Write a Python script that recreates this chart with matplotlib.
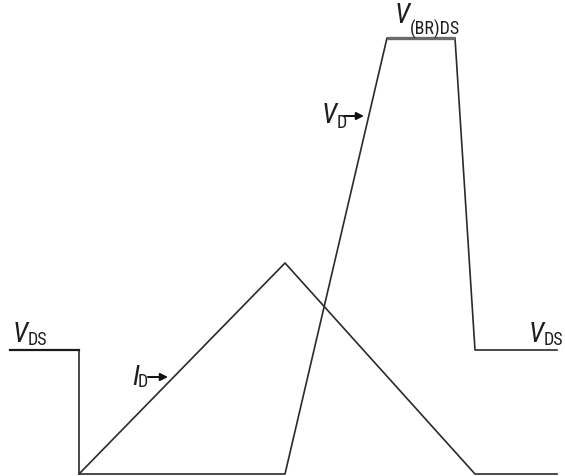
import matplotlib.pyplot as plt
from matplotlib import font_manager as fm

# breakpoints of the switching waveforms (pixel-like units, y grows downward)
vds_t = [10, 79, 79, 285, 387, 455, 475, 557]
vds_v = [351, 351, 475, 475, 39, 39, 351, 351]

id_t = [79, 285, 475, 557]
id_v = [475, 264, 475, 475]

# pick the narrowest sans that is installed
names = {f.name for f in fm.fontManager.ttflist}
stretch = 'normal'
family = 'Liberation Sans'
for cand in ['Liberation Sans Narrow', 'Roboto Condensed', 'Open Sans Condensed']:
    if cand in names:
        family = cand
        break
else:
    if any(f.name == 'DejaVu Sans' and f.stretch == 'condensed'
           for f in fm.fontManager.ttflist):
        family, stretch = 'DejaVu Sans', 'condensed'

fig = plt.figure(figsize=(5.65, 4.77), dpi=100)
ax = fig.add_axes([0, 0, 1, 1])
ax.set_xlim(0, 565)
ax.set_ylim(477, 0)
ax.axis('off')

ink = '#1e1e1e'
ax.plot(vds_t, vds_v, color='#2a2a2a', lw=1.2)
ax.plot(id_t, id_v, color='#2a2a2a', lw=1.2)
# clamp level drawn a bit heavier
ax.plot(vds_t[4:6], vds_v[4:6], color='#6a6a6a', lw=2.4, solid_capstyle='butt')
ax.plot(vds_t[:2], vds_v[:2], color='#1a1a1a', lw=1.6)


def label(x, y, main, sub, ysub, size=20, subsize=13):
    # main letter in italics, subscript placed right after it
    t = ax.text(x, y, main, fontsize=size, style='italic', family=family,
                stretch=stretch, color=ink, va='baseline', ha='left')
    ax.annotate(sub, xy=(1, ysub), xycoords=(t, 'data'), xytext=(-0.5, 0),
                textcoords='offset points', fontsize=subsize, family=family,
                stretch=stretch, color=ink, va='baseline', ha='left')


label(13, 342, 'V', 'DS', 345)
label(529, 342, 'V', 'DS', 345)
label(395, 23, 'V', '(BR)DS', 35)
label(132, 385, 'I', 'D', 387)
label(322, 123, 'V', 'D', 128)

ax.annotate('', xy=(168, 378), xytext=(148, 378),
            arrowprops=dict(arrowstyle='-|>', color='#111111', lw=1.4,
                            mutation_scale=11, shrinkA=0, shrinkB=0))
ax.annotate('', xy=(364, 117), xytext=(344, 117),
            arrowprops=dict(arrowstyle='-|>', color='#111111', lw=1.4,
                            mutation_scale=11, shrinkA=0, shrinkB=0))

fig.savefig('out.png', dpi=100)
